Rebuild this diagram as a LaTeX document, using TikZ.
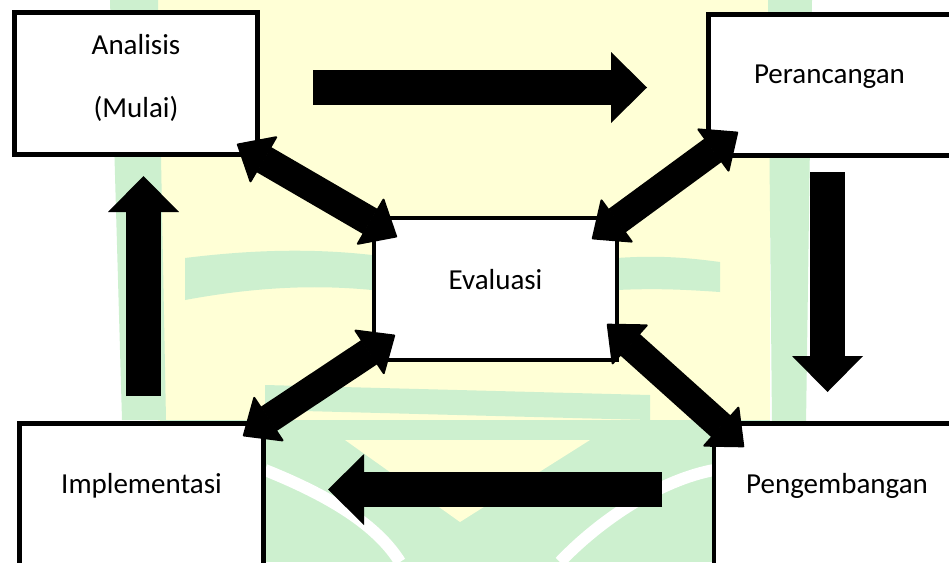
\documentclass[tikz,border=0pt]{standalone}
\usepackage{fontspec}
\setmainfont{Carlito}
\usetikzlibrary{arrows.meta,calc}
\definecolor{wmY}{RGB}{255,255,214}
\definecolor{wmG}{RGB}{205,240,207}
\begin{document}
\begin{tikzpicture}[x=1pt,y=-1pt,
  box/.style={draw,line width=4.5pt,fill=white,inner sep=0pt},
  lbl/.style={font=\fontsize{29}{35}\selectfont,anchor=base,inner sep=0pt},
  bigarrow/.style={line width=35pt,-{Triangle[length=36pt,width=71pt,line width=0pt]}},
  dbltip/.style={},
  dblarrow/.style={line width=29pt,{Triangle[length=32pt,width=55pt,line width=2pt,round]}-{Triangle[length=32pt,width=55pt,line width=2pt,round]}}]
\useasboundingbox (0,0) rectangle (949,562);
\clip (0,0) rectangle (949,562);
% watermark background
\fill[wmY] (158,0) rectangle (770,445);
\fill[wmG] (110,0) -- (158,0) -- (166,420) -- (122,420) -- cycle;
\fill[wmG] (768,0) -- (812,0) -- (806,425) -- (772,425) -- cycle;
\fill[wmG] (185,258) .. controls (250,250) and (310,248) .. (372,255) -- (372,290) .. controls (310,284) and (250,288) .. (185,300) -- cycle;
\fill[wmG] (617,258) .. controls (660,255) and (690,258) .. (720,262) -- (720,292) .. controls (690,290) and (660,288) .. (617,290) -- cycle;
\fill[wmG] (265,385) -- (650,395) -- (650,420) -- (265,410) -- cycle;
\fill[wmG] (160,420) rectangle (770,562);
\fill[wmY] (345,440) -- (590,440) -- (460,522) -- cycle;
\draw[white,line width=12pt] (265,470) .. controls (340,500) and (380,530) .. (400,562);
\draw[white,line width=12pt] (560,562) .. controls (600,520) and (660,480) .. (714,470);
% boxes
\node[box,minimum width=243pt,minimum height=142pt] (ana) at (136,83.5) {};
\node[box,minimum width=272pt,minimum height=141pt] (per) at (844.5,85) {};
\node[box,minimum width=243pt,minimum height=142pt] (eva) at (495.5,289) {};
\node[box,minimum width=244pt,minimum height=176.5pt] (imp) at (141.5,511.75) {};
\node[box,minimum width=276pt,minimum height=176.5pt] (pen) at (852,511.75) {};
% labels
\node[lbl] (anaT1) at (136,54) {Analisis};
\node[lbl] (anaT2) at (136,117) {(Mulai)};
\node[lbl] (perT) at (829.5,83) {Perancangan};
\node[lbl] (evaT) at (495.5,289) {Evaluasi};
\node[lbl] (impT) at (141.5,493) {Implementasi};
\node[lbl] (penT) at (837,493) {Pengembangan};
% straight arrow ends
\coordinate (t1) at (313,87.5);  \coordinate (t2) at (647,87.5);
\coordinate (r1) at (827.5,172); \coordinate (r2) at (827.5,392);
\coordinate (b1) at (662,489.5); \coordinate (b2) at (328,489.5);
\coordinate (l1) at (143.5,396); \coordinate (l2) at (143.5,176);
\draw[bigarrow] (t1) -- (t2);
\draw[bigarrow] (r1) -- (r2);
\draw[bigarrow] (b1) -- (b2);
\draw[bigarrow] (l1) -- (l2);
% diagonal double arrows
\coordinate (d1a) at (237,144); \coordinate (d1b) at (397,237);
\coordinate (d2a) at (738,132); \coordinate (d2b) at (592,239);
\coordinate (d3a) at (395,335); \coordinate (d3b) at (243,436);
\coordinate (d4a) at (607,324); \coordinate (d4b) at (744,447);
\draw[dblarrow] (d1a) -- (d1b);
\draw[dblarrow] (d2a) -- (d2b);
\draw[dblarrow] (d3a) -- (d3b);
\draw[dblarrow] (d4a) -- (d4b);
\end{tikzpicture}
\end{document}
